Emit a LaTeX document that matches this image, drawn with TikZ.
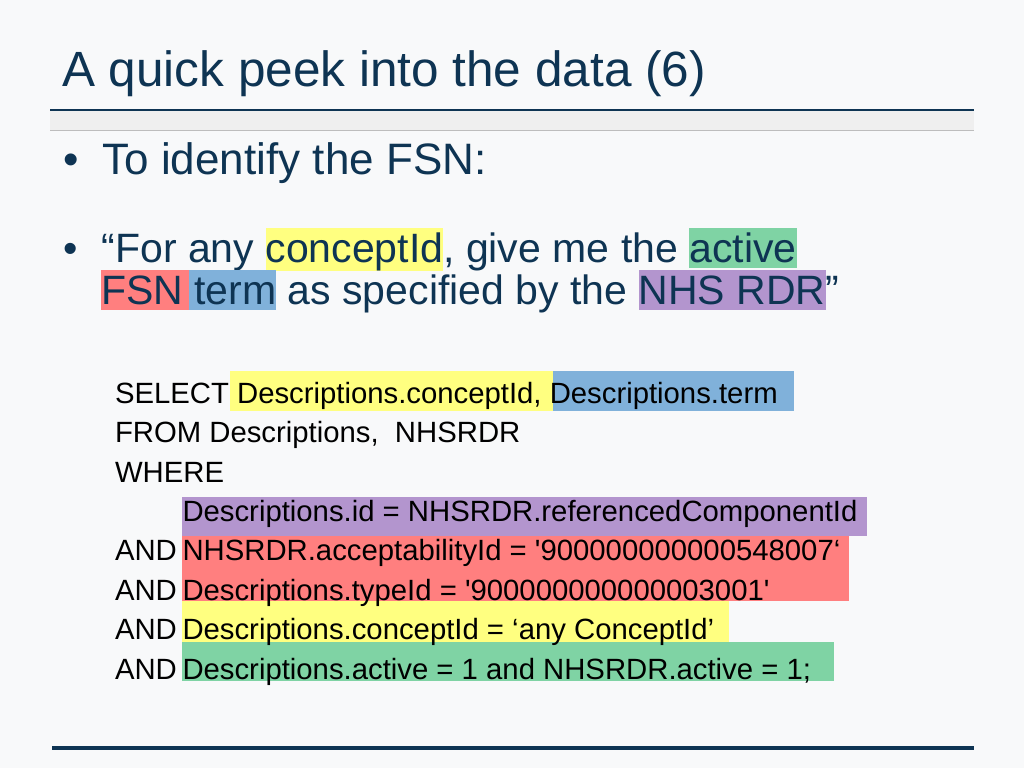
\documentclass[tikz,border=0pt]{standalone}
\usepackage{fontspec}
\setmainfont{Liberation Sans}
\definecolor{bgc}{HTML}{F8F9FA}
\definecolor{navy}{HTML}{0E3453}
\definecolor{hlyellow}{HTML}{FFFF80}
\definecolor{hlgreen}{HTML}{7FD3A4}
\definecolor{hlred}{HTML}{FF7F7F}
\definecolor{hlblue}{HTML}{80B1DA}
\definecolor{hlpurple}{HTML}{B395CE}
\definecolor{bandgrey}{HTML}{EFEFEF}
\definecolor{bandedge}{HTML}{BDBDBD}
\newcommand\hlbox[2]{{\setlength\fboxsep{0pt}\colorbox{#1}{\rule[-6pt]{0pt}{40pt}#2}}}
\tikzset{
  txt/.style={anchor=base west, inner sep=0pt, outer sep=0pt},
  titletext/.style={txt, text=navy, font=\fontsize{49.5}{59}\selectfont},
  bigtext/.style={txt, text=navy, font=\fontsize{44}{52}\selectfont},
  midtext/.style={txt, text=navy, font=\fontsize{41}{49}\selectfont},
  codetext/.style={txt, text=black, font=\fontsize{29.3}{35}\selectfont},
}
\begin{document}
\begin{tikzpicture}[x=1pt,y=-1pt]
\useasboundingbox (0,0) rectangle (1024,768);
\fill[bgc] (0,0) rectangle (1024,768);
% title and rules
\node[titletext] (title) at (62,86) {A quick peek into the data (6)};
\fill[navy] (50,108.7) rectangle (974,111.3);
\fill[bandgrey] (50,111.3) rectangle (974,130);
\draw[bandedge, line width=1pt] (50,130) -- (974,130);
\fill[navy] (52,746) rectangle (974,750);
% bullets
\node[bigtext] (dot1) at (63,174.5) {•};
\node[bigtext] (b1) at (102.5,174.5) {To identify the FSN:};
\node[midtext] (dot2) at (63.6,262.5) {•};
\node[midtext] (b2a) at (101.5,262) {“For any \hlbox{hlyellow}{conceptId}, give me the \hlbox{hlgreen}{active}};
\node[midtext] (b2b) at (101,304) {\hlbox{hlred}{FSN\hspace{0.139em}}\hlbox{hlblue}{\hspace{0.139em}term} as specified by the \hlbox{hlpurple}{NHS RDR}”};
% code highlights
\fill[hlyellow] (230,371) rectangle (552.5,411);
\fill[hlblue] (552.5,371) rectangle (794,411);
\fill[hlpurple] (181.7,497) rectangle (866.7,536.3);
\fill[hlred] (181.7,536.3) rectangle (849.3,601);
\fill[hlyellow] (181.7,601) rectangle (729.3,641.7);
\fill[hlgreen] (181.7,641.7) rectangle (834,681);
% code text
\node[codetext] (select) at (115,403.3) {SELECT Descriptions.conceptId, Descriptions.term};
\node[codetext] (from) at (115,442.7) {FROM Descriptions,\ \ NHSRDR};
\node[codetext] (where) at (115,482.1) {WHERE};
\node[codetext] (c1) at (182.5,521.5) {Descriptions.id = NHSRDR.referencedComponentId};
\node[codetext] (and2) at (115,560.9) {AND};
\node[codetext] (c2) at (182.5,560.9) {NHSRDR.acceptabilityId = \textquotesingle 900000000000548007‘};
\node[codetext] (and3) at (115,600.3) {AND};
\node[codetext] (c3) at (182.5,600.3) {Descriptions.typeId = \textquotesingle 900000000000003001\textquotesingle};
\node[codetext] (and4) at (115,639.7) {AND};
\node[codetext] (c4) at (182.5,639.7) {Descriptions.conceptId = ‘any ConceptId’};
\node[codetext] (and5) at (115,679.1) {AND};
\node[codetext] (c5) at (182.5,679.1) {Descriptions.active = 1 and NHSRDR.active = 1;};
\end{tikzpicture}
\end{document}
